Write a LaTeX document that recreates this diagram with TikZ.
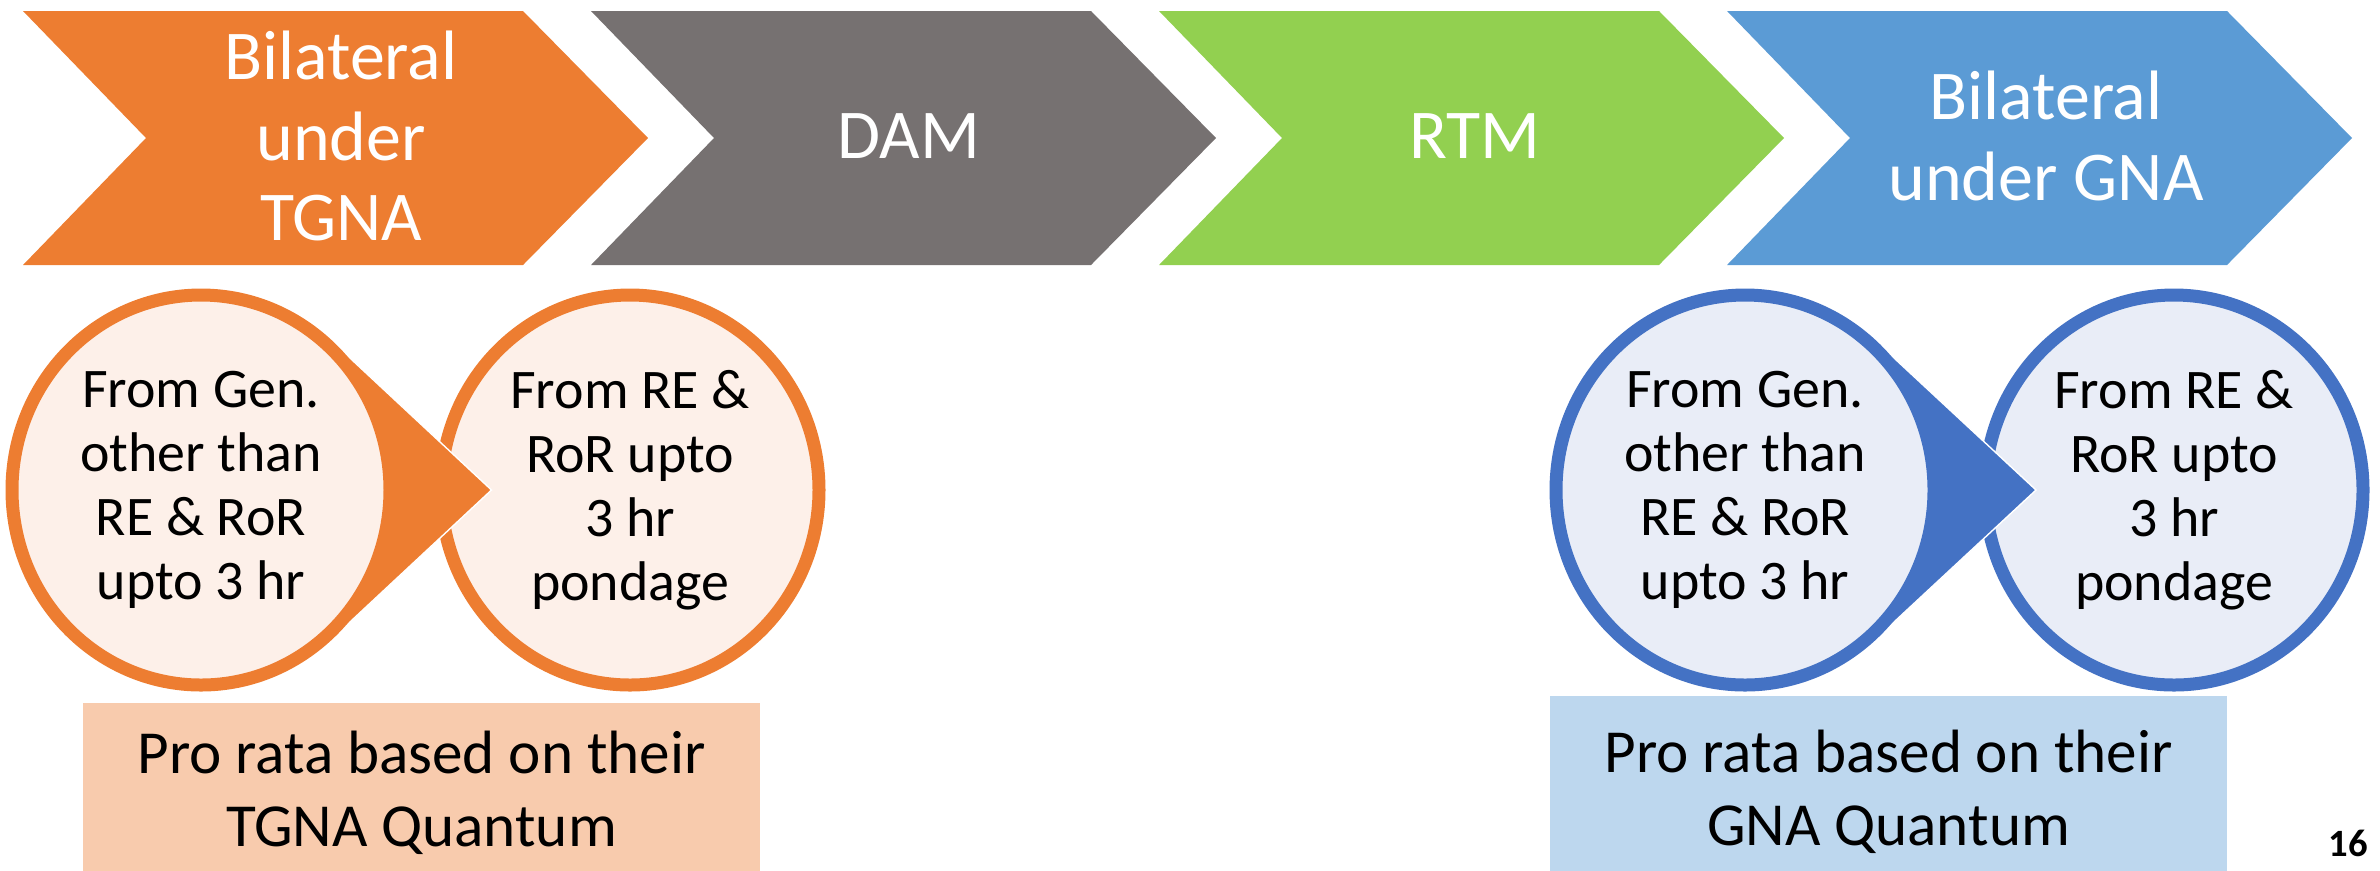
\documentclass[tikz,border=0pt]{standalone}
\usepackage{fontspec}
\setmainfont{Carlito}
\usetikzlibrary{shapes.geometric}
\definecolor{tgnaOrange}{HTML}{ED7D31}
\definecolor{damGray}{HTML}{767171}
\definecolor{rtmGreen}{HTML}{92D050}
\definecolor{gnaBlue}{HTML}{5B9BD5}
\definecolor{ringBlue}{HTML}{4472C4}
\definecolor{tgnaLight}{HTML}{FDF0E9}
\definecolor{gnaLight}{HTML}{E9EDF7}
\definecolor{tgnaBox}{HTML}{F8CBAD}
\definecolor{gnaBox}{HTML}{BDD7EE}

\begin{document}
\begin{tikzpicture}[x=0.1mm,y=-0.1mm]
    \tikzset{stage/.style = {text=white, align=center, font=\fontsize{19.9pt}{23pt}\selectfont}}
    \tikzset{bubble/.style = {shape=ellipse, draw, line width=1.3mm, inner sep=0pt, minimum width=37.8mm, minimum height=39mm, align=center, font=\fontsize{15.9pt}{18.2pt}\selectfont}}
    \tikzset{quota/.style = {shape=rectangle, inner sep=0pt, minimum width=67.7mm, align=center, font=\fontsize{17.4pt}{20.8pt}\selectfont}}
    \tikzset{pointer/.style = {draw=white, line width=0.4pt}}

    \clip (0,0) rectangle (2380,870);

    % chevrons
    \foreach \x/\c in {23/tgnaOrange, 591/damGray, 1159/rtmGreen, 1727/gnaBlue}
        \fill[\c] (\x,11) -- ++(500,0) -- ++(125,127) -- ++(-125,127) -- ++(-500,0) -- ++(123,-127) -- cycle;

    \node[stage] (tgna) at (341,136) {Bilateral\\under\\TGNA};
    \node[stage] (dam)  at (909,136) {DAM};
    \node[stage] (rtm)  at (1475,136) {RTM};
    \node[stage] (gna)  at (2046,136) {Bilateral\\under GNA};

    % bubbles, TGNA side
    \coordinate (genT) at (201,490);
    \node[bubble, draw=tgnaOrange, fill=tgnaLight] (reT) at (630,490) {From RE \&\\RoR upto\\3 hr\\pondage};
    \fill[tgnaOrange] (genT) -- ++(135,-145) -- ++(155.5,145) -- ++(-155.5,145) -- cycle;
    \draw[pointer] (genT) ++(135,-145) -- ++(155.5,145) -- ++(-155.5,145);
    \node[bubble, draw=tgnaOrange, fill=tgnaLight] (otherT) at (genT) {From Gen.\\other than\\RE \& RoR\\upto 3 hr};

    % bubbles, GNA side
    \coordinate (genG) at (1745,490);
    \node[bubble, draw=ringBlue, fill=gnaLight] (reG) at (2174,490) {From RE \&\\RoR upto\\3 hr\\pondage};
    \fill[ringBlue] (genG) -- ++(135,-145) -- ++(156,145) -- ++(-156,145) -- cycle;
    \draw[pointer] (genG) ++(135,-145) -- ++(156,145) -- ++(-156,145);
    \node[bubble, draw=ringBlue, fill=gnaLight] (otherG) at (genG) {From Gen.\\other than\\RE \& RoR\\upto 3 hr};

    % quantum boxes
    \node[quota, fill=tgnaBox, minimum height=18mm] (quotaT) at (421.5,793) {Pro rata based on their\\TGNA Quantum};
    \node[quota, fill=gnaBox, minimum height=19.2mm] (quotaG) at (1888.5,792) {Pro rata based on their\\GNA Quantum};

    \node[anchor=base, inner sep=0pt, font=\bfseries\fontsize{11pt}{13pt}\selectfont] (page) at (2348,856) {16};
\end{tikzpicture}
\end{document}
